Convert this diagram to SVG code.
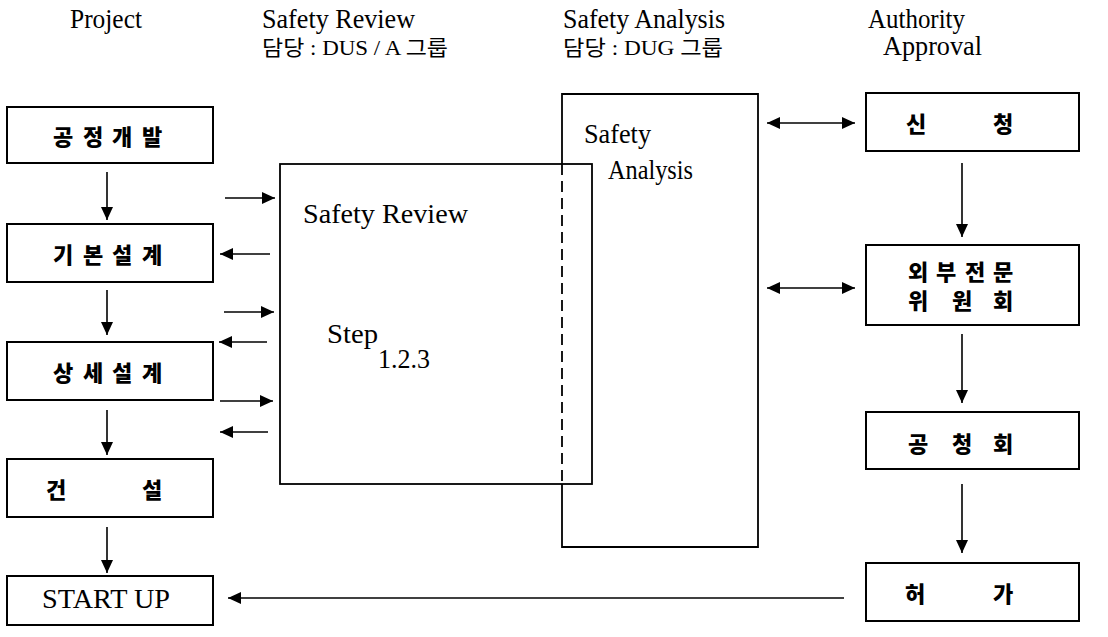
<svg xmlns="http://www.w3.org/2000/svg" width="1108" height="637" viewBox="0 0 1108 637">
<style>
.bg{fill:#fff}
.box{fill:none;stroke:#000;stroke-width:2}
.big{fill:none;stroke:#000;stroke-width:1.8}
.con{fill:none;stroke:#000;stroke-width:1.6}
.ser{font-family:"Liberation Serif","Noto Sans CJK KR",serif;fill:#000}
.hdr{font-size:27px}
.bx{font-size:27px}
.kr{font-family:"Noto Sans CJK KR","Noto Sans",sans-serif;font-weight:900;font-size:22px;fill:#000;text-anchor:middle;dominant-baseline:central}
.krh{font-family:"Liberation Serif","Noto Sans CJK KR",serif;font-size:21px}
</style>
<defs>
<marker id="ah" viewBox="0 0 13 12" refX="13" refY="6" markerWidth="13" markerHeight="12" markerUnits="userSpaceOnUse" orient="auto-start-reverse">
<path d="M0,0 L13,6 L0,12 Z" fill="#000"/>
</marker>
</defs>
<rect class="bg" x="0" y="0" width="1108" height="637"/>

<g id="headers">
<text class="ser hdr" x="70" y="28" textLength="72" lengthAdjust="spacingAndGlyphs">Project</text>
<text class="ser hdr" x="262" y="28" textLength="153" lengthAdjust="spacingAndGlyphs">Safety Review</text>
<text class="ser krh" x="262" y="55" textLength="186" lengthAdjust="spacingAndGlyphs">담당 : DUS / A 그룹</text>
<text class="ser hdr" x="563" y="28" textLength="162" lengthAdjust="spacingAndGlyphs">Safety Analysis</text>
<text class="ser krh" x="563" y="55" textLength="160" lengthAdjust="spacingAndGlyphs">담당 : DUG 그룹</text>
<text class="ser hdr" x="868" y="28" textLength="97" lengthAdjust="spacingAndGlyphs">Authority</text>
<text class="ser hdr" x="883" y="55" textLength="99" lengthAdjust="spacingAndGlyphs">Approval</text>
</g>

<g id="node-gongjeong">
<rect class="box" x="7" y="107" width="206" height="56"/>
<text class="kr" x="63 93 122 152" y="135">공정개발</text>
</g>
<g id="node-gibon">
<rect class="box" x="7" y="224" width="206" height="58"/>
<text class="kr" x="63 93 122 152" y="253">기본설계</text>
</g>
<g id="node-sangse">
<rect class="box" x="7" y="342" width="206" height="58"/>
<text class="kr" x="63 93 122 152" y="371">상세설계</text>
</g>
<g id="node-geonseol">
<rect class="box" x="7" y="459" width="206" height="58"/>
<text class="kr" x="56 152" y="488">건설</text>
</g>
<g id="node-startup">
<rect class="box" x="7" y="576" width="206" height="49"/>
<text class="ser" x="42" y="608" font-size="28" textLength="128" lengthAdjust="spacingAndGlyphs">START UP</text>
</g>

<g id="node-safety-review">
<rect class="big" x="280" y="164" width="312" height="320"/>
<text class="ser bx" x="303" y="223" textLength="165" lengthAdjust="spacingAndGlyphs">Safety Review</text>
<text class="ser bx" x="327" y="343" textLength="51" lengthAdjust="spacingAndGlyphs">Step</text>
<text class="ser bx" x="378" y="368" textLength="52" lengthAdjust="spacingAndGlyphs">1.2.3</text>
</g>

<g id="node-safety-analysis">
<path class="big" d="M562,164 L562,94 L758,94 L758,547 L562,547 L562,484"/>
<path class="big" d="M562,164 L562,484" stroke-dasharray="11,6"/>
<text class="ser bx" x="584" y="143" textLength="67" lengthAdjust="spacingAndGlyphs">Safety</text>
<text class="ser bx" x="608" y="179" textLength="85" lengthAdjust="spacingAndGlyphs">Analysis</text>
</g>

<g id="node-sincheong">
<rect class="box" x="866" y="93" width="213" height="58"/>
<text class="kr" x="916 1003" y="122">신청</text>
</g>
<g id="node-oebu">
<rect class="box" x="866" y="245" width="213" height="80"/>
<text class="kr" x="918 946 975 1003" y="270">외부전문</text>
<text class="kr" x="918 962 1003" y="299">위원회</text>
</g>
<g id="node-gongcheong">
<rect class="box" x="866" y="412" width="213" height="57"/>
<text class="kr" x="918 962 1003" y="442">공청회</text>
</g>
<g id="node-heoga">
<rect class="box" x="866" y="563" width="213" height="58"/>
<text class="kr" x="915 1003" y="592">허가</text>
</g>

<g id="connectors">
<line class="con" x1="107" y1="172" x2="107" y2="220" marker-end="url(#ah)"/>
<line class="con" x1="107" y1="290" x2="107" y2="335" marker-end="url(#ah)"/>
<line class="con" x1="107" y1="410" x2="107" y2="455" marker-end="url(#ah)"/>
<line class="con" x1="107" y1="527" x2="107" y2="573" marker-end="url(#ah)"/>

<line class="con" x1="225" y1="198" x2="275" y2="198" marker-end="url(#ah)"/>
<line class="con" x1="270" y1="254" x2="220" y2="254" marker-end="url(#ah)"/>
<line class="con" x1="224" y1="312" x2="274" y2="312" marker-end="url(#ah)"/>
<line class="con" x1="267" y1="342" x2="219" y2="342" marker-end="url(#ah)"/>
<line class="con" x1="220" y1="401" x2="273" y2="401" marker-end="url(#ah)"/>
<line class="con" x1="268" y1="432" x2="220" y2="432" marker-end="url(#ah)"/>

<line class="con" x1="767" y1="123" x2="855" y2="123" marker-start="url(#ah)" marker-end="url(#ah)"/>
<line class="con" x1="767" y1="288" x2="855" y2="288" marker-start="url(#ah)" marker-end="url(#ah)"/>

<line class="con" x1="962" y1="163" x2="962" y2="237" marker-end="url(#ah)"/>
<line class="con" x1="962" y1="334" x2="962" y2="403" marker-end="url(#ah)"/>
<line class="con" x1="962" y1="484" x2="962" y2="553" marker-end="url(#ah)"/>

<line class="con" x1="844" y1="598" x2="228" y2="598" marker-end="url(#ah)"/>
</g>
</svg>
